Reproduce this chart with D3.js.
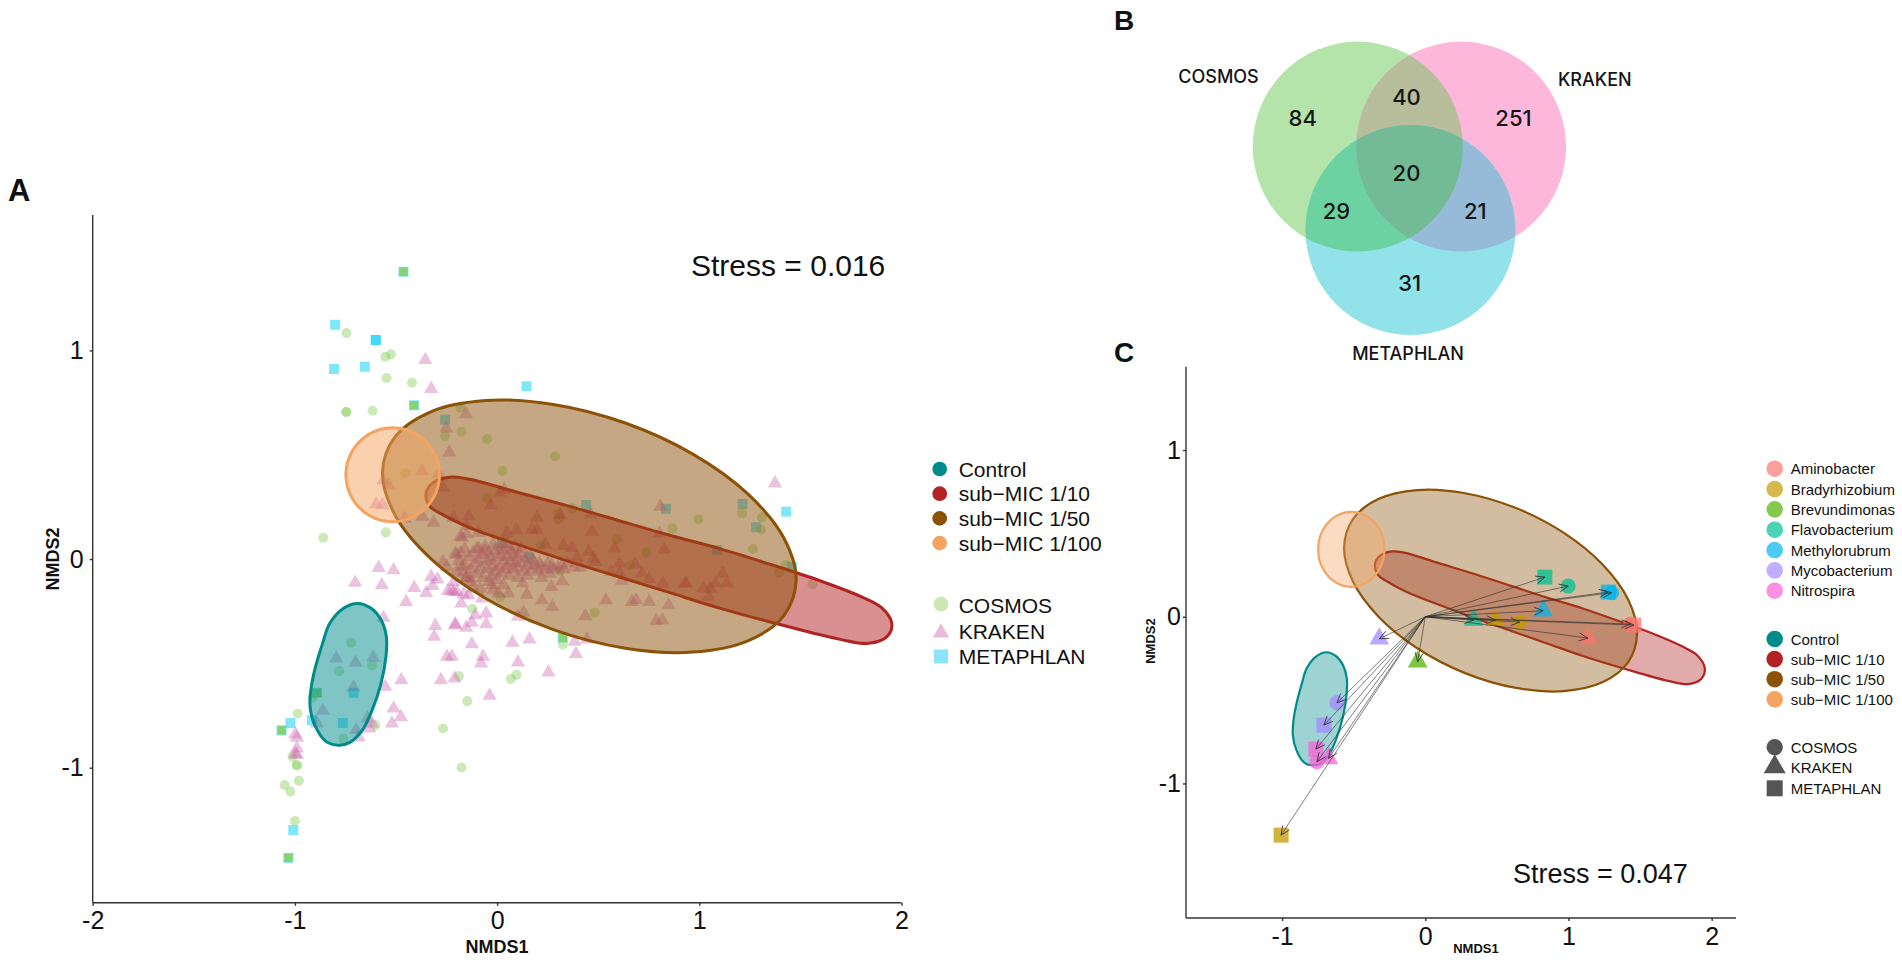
<!DOCTYPE html>
<html><head><meta charset="utf-8">
<script src="https://cdnjs.cloudflare.com/ajax/libs/d3/7.8.5/d3.min.js"></script>
<style>
html,body{margin:0;padding:0;background:#fff;overflow:hidden}
svg{display:block}
text{font-family:"Liberation Sans",Arial,sans-serif;fill:#111}
.venn{font-family:Inter,"Noto Sans",sans-serif;fill:#151515;font-weight:500}
</style></head><body>
<svg id="c" width="1902" height="962"></svg>
<script>
// ---------- DATA ----------
const groupNames = ["Control","sub\u2212MIC 1/10","sub\u2212MIC 1/50","sub\u2212MIC 1/100"];
const methodNames = ["COSMOS","KRAKEN","METAPHLAN"];
const genusNames = ["Aminobacter","Bradyrhizobium","Brevundimonas","Flavobacterium","Methylorubrum","Mycobacterium","Nitrospira"];
const vennCounts = ["84","40","251","29","20","21","31"];
const xTicksA = [-2,-1,0,1,2], yTicksA = [-1,0,1], xTicksC = [-1,0,1,2], yTicksC = [-1,0,1];

const outlineControl = [[-0.691,-0.213],[-0.625,-0.235],[-0.575,-0.29],[-0.548,-0.37],[-0.55,-0.47],[-0.575,-0.6],[-0.618,-0.724],[-0.67,-0.825],[-0.73,-0.88],[-0.783,-0.892],[-0.845,-0.875],[-0.9,-0.80],[-0.925,-0.708],[-0.92,-0.62],[-0.898,-0.516],[-0.865,-0.41],[-0.828,-0.309],[-0.761,-0.237]];
const outline110 = [[-0.352,0.307],[-0.33,0.355],[-0.248,0.391],[-0.149,0.385],[0.1,0.32],[0.35,0.255],[0.6,0.185],[0.85,0.115],[1.1,0.05],[1.35,-0.025],[1.6,-0.105],[1.8,-0.18],[1.9,-0.232],[1.952,-0.308],[1.928,-0.372],[1.837,-0.404],[1.697,-0.385],[1.384,-0.31],[1.1,-0.235],[0.85,-0.16],[0.6,-0.085],[0.35,-0.01],[0.1,0.07],[-0.133,0.15],[-0.281,0.219],[-0.331,0.251]];
const outline150 = [[1.479,-0.1],[1.417,-0.272],[1.24,-0.392],[0.968,-0.446],[0.634,-0.427],[0.278,-0.338],[-0.056,-0.189],[-0.328,0.002],[-0.505,0.211],[-0.567,0.414],[-0.505,0.586],[-0.328,0.706],[-0.056,0.76],[0.278,0.741],[0.634,0.652],[0.968,0.503],[1.24,0.312],[1.417,0.103]];
const outline1100 = [[-0.285,0.404],[-0.316,0.517],[-0.401,0.599],[-0.5165,0.629],[-0.632,0.599],[-0.717,0.517],[-0.748,0.404],[-0.717,0.292],[-0.632,0.209],[-0.5165,0.179],[-0.401,0.209],[-0.316,0.292]];

const cosmosA = [[-0.745,1.083],[-0.552,0.97],[-0.525,0.981],[-0.547,0.868],[-0.421,0.845],[-0.746,0.705],[-0.746,0.705],[-0.616,0.711],[-0.183,0.725],[-0.176,0.61],[-0.257,0.59],[-0.05,0.575],[0.287,0.492],[0.027,0.422],[-0.454,0.411],[-0.049,0.292],[0.304,0.219],[0.304,0.19],[0.373,0.243],[-0.55,0.128],[-0.86,0.102],[0.867,0.147],[0.996,0.19],[0.592,0.094],[0.737,0.032],[0.658,-0.029],[0.217,0.064],[0.309,-0.056],[0.015,-0.181],[-0.123,-0.238],[0.482,-0.257],[0.325,-0.409],[-0.189,-0.561],[0.068,-0.575],[0.096,-0.555],[-0.148,-0.681],[-0.267,-0.812],[1.212,0.22],[1.31,0.2],[1.306,0.142],[1.265,0.048],[1.428,-0.029],[1.395,-0.064],[1.56,-0.121],[-0.722,-0.401],[-0.781,-0.537],[-0.619,-0.51],[-0.913,-0.665],[-0.987,-0.74],[-0.603,-0.796],[-0.76,-0.86],[-1.012,-0.948],[-0.99,-0.988],[-0.99,-0.988],[-0.98,-1.063],[-1.051,-1.083],[-1.022,-1.114],[-1,-1.256],[-0.176,-0.999]];
const metaphlanA = [[-0.463,1.377],[-0.801,1.123],[-0.6,1.05],[-0.6,1.05],[-0.806,0.911],[-0.654,0.922],[0.145,0.828],[-0.411,0.737],[-0.257,0.668],[0.441,0.259],[0.835,0.241],[0.024,0.078],[0.159,0.008],[0.325,-0.377],[1.214,0.264],[1.281,0.153],[1.43,0.227],[1.087,0.043],[1.458,-0.037],[-1.066,-0.821],[-1.022,-0.786],[-0.916,-0.772],[-0.891,-0.641],[-0.71,-0.641],[-0.763,-0.786],[-1.008,-1.299],[-1.032,-1.432]];
const metaphlanSharedA = [[-0.463,1.377],[-0.411,0.737],[0.325,-0.377],[-1.066,-0.821],[-0.891,-0.641],[-1.032,-1.432]];
const krakenScatterA = [[-0.355,0.954],[-0.326,0.816],[-0.154,0.695],[-0.252,0.626],[-0.237,0.511],[-0.372,0.423],[-0.562,0.378],[-0.537,0.354],[-0.598,0.263],[-0.567,0.259],[-0.29,0.407],[-0.268,0.343],[0.015,0.319],[0.035,0.334],[-0.031,0.257],[-0.458,0.195],[-0.369,0.203],[-0.314,0.175],[-0.215,0.198],[-0.141,0.207],[-0.15,0.159],[-0.182,0.107],[-0.15,0.12],[-0.092,0.126],[0.048,0.123],[0.095,0.139],[0.172,0.142],[0.197,0.198],[0.197,0.139],[0.312,0.211],[0.464,0.214],[0.469,0.131],[0.807,0.251],[0.803,0.123],[0.827,0.046],[0.581,0.051],[0.452,0.035],[0.238,0.07],[0.329,0.064],[0.37,0.054],[0.395,0.008],[0.477,0.003],[0.485,-0.013],[0.606,-0.021],[0.683,-0.026],[0.716,-0.069],[0.752,-0.096],[0.606,-0.066],[0.564,-0.061],[0.617,-0.104],[0.82,-0.117],[0.935,-0.117],[0.411,-0.04],[0.322,-0.106],[0.269,-0.133],[0.221,-0.197],[0.273,-0.229],[0.147,-0.17],[0.127,-0.117],[0.538,-0.197],[0.667,-0.205],[0.688,-0.197],[0.752,-0.205],[0.848,-0.221],[0.436,-0.273],[0.787,-0.296],[0.817,-0.293],[0.131,-0.256],[0.103,-0.276],[0.444,-0.385],[0.383,-0.396],[0.39,-0.455],[0.254,-0.543],[0.16,-0.385],[0.076,-0.4],[0.103,-0.495],[-0.07,-0.468],[-0.079,-0.5],[-0.037,-0.655],[-0.125,-0.408],[-0.248,-0.468],[-0.224,-0.468],[-0.278,-0.58],[-0.21,-0.572],[-0.474,-0.58],[-0.553,-0.612],[-0.512,-0.716],[-0.476,-0.756],[-0.52,-0.788],[-0.306,-0.32],[-0.311,-0.372],[-0.207,-0.312],[-0.207,-0.318],[-0.153,-0.329],[-0.125,-0.305],[-0.054,-0.312],[-0.108,-0.269],[-0.054,-0.26],[-0.562,-0.281],[-0.586,-0.042],[-0.512,-0.053],[-0.702,-0.113],[-0.57,-0.125],[-0.41,-0.138],[-0.351,-0.162],[-0.45,-0.206],[-0.326,-0.085],[-0.295,-0.098],[-0.319,-0.128],[-0.243,-0.153],[-0.215,-0.109],[-0.215,-0.157],[-0.199,-0.157],[-0.225,-0.15],[-0.177,-0.213],[-0.166,-0.168],[-0.141,-0.173],[-0.075,-0.189],[-0.268,-0.013],[-0.248,-0.037],[0.007,-0.165],[0.056,-0.165],[0.032,-0.125],[-0.026,-0.125],[-0.084,-0.141],[-0.133,-0.093],[-0.155,-0.093],[-0.174,-0.037],[-0.207,0.027],[-0.2,0.02],[-0.174,0.104],[-0.796,-0.476],[-0.7,-0.497],[-0.613,-0.473],[-0.71,-0.615],[-0.862,-0.727],[-0.891,-0.787],[-0.641,-0.764],[-0.697,-0.819],[-0.619,-0.787],[-0.632,-0.811],[-0.685,-0.855],[-0.998,-0.84],[-0.99,-0.856],[-0.99,-0.907],[-0.998,-0.934],[-0.99,-0.939],[1.374,0.363],[1.116,-0.069],[1.136,-0.117],[1.054,-0.14],[1.021,-0.14],[1.046,-0.18],[0.93,-0.117],[1.079,-0.117]];
const krakenClusterA = [[-0.16,-0.03],[-0.14,0.01],[-0.13,-0.05],[-0.12,0.03],[-0.11,-0.02],[-0.10,-0.07],[-0.09,0.05],[-0.09,0.00],[-0.08,-0.04],[-0.07,0.02],[-0.07,-0.09],[-0.06,0.06],[-0.05,-0.01],[-0.05,-0.05],[-0.04,0.03],[-0.03,-0.08],[-0.03,0.00],[-0.02,0.07],[-0.02,-0.03],[-0.01,0.04],[-0.01,-0.06],[0.00,0.01],[0.00,-0.10],[0.01,0.06],[0.01,-0.04],[0.02,0.02],[0.02,-0.07],[0.03,0.04],[0.03,-0.01],[0.04,-0.05],[0.05,0.07],[0.05,0.01],[0.05,-0.03],[0.06,-0.08],[0.07,0.04],[0.07,-0.01],[0.08,0.02],[0.08,-0.05],[0.09,0.06],[0.09,-0.02],[0.10,0.01],[0.10,-0.04],[0.11,0.03],[0.12,-0.02],[0.12,0.05],[0.13,-0.06],[0.14,0.00],[0.15,-0.03],[0.16,0.02],[0.17,-0.05],[0.18,-0.01],[0.19,-0.03],[0.20,-0.06],[0.21,-0.02],[0.22,-0.04],[0.24,-0.05],[0.25,-0.02],[0.27,-0.03],[0.28,-0.05],[0.30,-0.04],[0.32,-0.03],[0.33,-0.05],[-0.15,-0.09],[-0.13,-0.11],[-0.17,-0.07],[-0.06,0.04],[0.03,0.07],[0.06,0.05],[-0.10,0.05],[-0.04,-0.11],[-0.19,-0.01],[-0.2,-0.06],[-0.12,-0.14],[-0.02,-0.15],[0.1,-0.09],[0.15,-0.08],[0.22,-0.09],[0.26,-0.07],[0.35,-0.02],[0.38,-0.04],[-0.16,0.05],[-0.18,0.03]];

// panel C: [genus index, method index, NMDS1, NMDS2]
const genusGenus  = [3,3,4,4,4,3,1,1,0,0,0,5,2,5,5,6,6,6,1];
const genusMethod = [2,0,2,0,1,1,1,0,0,2,1,1,1,0,2,2,0,1,2];
const genusX = [0.835,0.998,1.278,1.301,0.823,0.338,0.49,0.66,1.434,1.457,1.136,-0.321,-0.053,-0.617,-0.708,-0.764,-0.757,-0.676,-1.007];
const genusY = [0.238,0.184,0.148,0.144,0.036,-0.02,-0.02,-0.032,-0.044,-0.05,-0.128,-0.132,-0.27,-0.516,-0.65,-0.794,-0.87,-0.85,-1.31];

// ---------- STYLE ----------
const groupColors = ["#008B8B","#B22222","#8B5208","#F4A460"];
const genusColors = ["#F8766D","#C49A00","#53B400","#00C094","#00B6EB","#A58AFF","#FB61D7"];
const methodSymbols = [d3.symbolCircle,d3.symbolTriangle,d3.symbolSquare];
const methodColorsA = ["#8ED061","#CC66B0","#00D0F5"];
const methodAlphaA = [0.45,0.4,0.5];
const legendColorsA = ["#CCE8B4","#E6BBDD","#8BE4F8"];
const vennBase = ["#B5E4AA","#FDB7DB","#92E2EA"];
const vennPairs = [[[0,1],"#B8BE9C"],[[0,2],"#6CD2A2"],[[1,2],"#96BBD8"],[[0,1,2],"#73BB94"]];
const vennCx = [-0.492,0.492,0.01], vennCy = [-0.397,-0.397,0.397];

const svg = d3.select("#c");
const defs = svg.append("defs");
defs.append("marker").attr("id","arr").attr("markerUnits","userSpaceOnUse")
  .attr("markerWidth",14).attr("markerHeight",14).attr("refX",12).attr("refY",7).attr("orient","auto")
  .append("path").attr("d","M3,3 L12,7 L3,11").attr("fill","none").attr("stroke","#333").attr("stroke-width",0.8);

const sym = (t,s)=>d3.symbol().type(t).size(s)();
const outlines = [outlineControl,outline110,outline150,outline1100];

function axes(g,x,y,xt,yt,lab){
  const ax=g.append("g").attr("transform",`translate(0,${y.range()[0]})`)
    .call(d3.axisBottom(x).tickValues(xt).tickFormat(String).tickSize(3).tickPadding(lab.xPad));
  const ay=g.append("g").attr("transform",`translate(${x.range()[0]},0)`)
    .call(d3.axisLeft(y).tickValues(yt).tickFormat(String).tickSize(3).tickPadding(lab.yPad));
  [ax,ay].forEach(a=>{a.selectAll("text").style("font-size","25px").attr("fill","#111");
    a.selectAll("line,path").attr("stroke","#333").attr("stroke-width",1.4);
    a.select(".domain").attr("d",null);});
  ax.select(".domain").attr("d",`M${x.range()[0]},0H${x.range()[1]}`);
  ay.select(".domain").attr("d",`M0,${y.range()[0]}V${y.range()[1]}`);
}
function ellipses(g,x,y,alpha,sw){
  const line=d3.line().x(d=>x(d[0])).y(d=>y(d[1])).curve(d3.curveCatmullRomClosed.alpha(0.5));
  g.selectAll("path.e").data(outlines).join("path").attr("class","e").attr("d",line)
    .attr("fill",(d,i)=>groupColors[i]).attr("fill-opacity",alpha)
    .attr("stroke",(d,i)=>groupColors[i]).attr("stroke-width",sw);
}
function label(t,x,y,size,opts={}){
  const e=svg.append("text").attr("x",x).attr("y",y).style("font-size",size+"px").text(t);
  if(opts.bold)e.style("font-weight","bold");
  if(opts.anchor)e.attr("text-anchor",opts.anchor);
  if(opts.rot)e.attr("transform",`rotate(-90 ${x} ${y})`);
  if(opts.cls)e.attr("class",opts.cls);
  return e;
}

// ---------- PANEL A ----------
const xA=d3.scaleLinear().domain([-2,2]).range([92.7,901.5]);
const yA=d3.scaleLinear().domain([-1.647,1.649]).range([902.7,215]);
const gA=svg.append("g");
const pts=(data,i,size)=>gA.append("g").selectAll("path").data(data).join("path")
  .attr("d",sym(methodSymbols[i],size)).attr("transform",d=>`translate(${xA(d[0])},${yA(d[1])})`)
  .attr("fill",methodColorsA[i]).attr("fill-opacity",methodAlphaA[i]);
pts(metaphlanA,2,100);
gA.append("g").selectAll("path").data(metaphlanSharedA).join("path")
  .attr("d",sym(d3.symbolSquare,72)).attr("transform",d=>`translate(${xA(d[0])},${yA(d[1])})`)
  .attr("fill","#85CE58").attr("fill-opacity",0.85);
pts(cosmosA,0,80);
pts(krakenScatterA.concat(krakenClusterA),1,88);
ellipses(gA,xA,yA,0.5,3);
axes(gA,xA,yA,xTicksA,yTicksA,{xPad:6,yPad:6});
label("Stress = 0.016",691,276,30);
label("A",8,201,31,{bold:true});
label("NMDS1",497,953,18,{bold:true,anchor:"middle"});
label("NMDS2",59,559,18,{bold:true,anchor:"middle",rot:true});

// legend A
const legA=svg.append("g");
groupNames.forEach((n,i)=>{
  const yy=469+i*24.7;
  legA.append("path").attr("d",sym(d3.symbolCircle,170)).attr("transform",`translate(939.7,${yy})`).attr("fill",groupColors[i]);
  legA.append("text").attr("x",958.7).attr("y",yy+7.5).style("font-size","21px").text(n);
});
methodNames.forEach((n,i)=>{
  const yy=[604,632.7,656.5][i];
  legA.append("path").attr("d",sym(methodSymbols[i],[175,115,196][i])).attr("transform",`translate(941,${yy})`).attr("fill",legendColorsA[i]);
  legA.append("text").attr("x",958.7).attr("y",[613,639,664][i]).style("font-size","21px").text(n);
});

// ---------- PANEL B ----------
const vx=d3.scaleLinear().domain([-1,1]).range([1304.4,1514.4]);
const vy=d3.scaleLinear().domain([-1,1]).range([83.3,293.3]);
const vr=v=>vx(v)-vx(0);
const gB=svg.append("g");
vennCx.forEach((c,i)=>defs.append("clipPath").attr("id","v"+i).append("circle")
  .attr("cx",vx(c)).attr("cy",vy(vennCy[i])).attr("r",vr(1)));
vennCx.forEach((c,i)=>gB.append("circle").attr("cx",vx(c)).attr("cy",vy(vennCy[i])).attr("r",vr(1)).attr("fill",vennBase[i]));
vennPairs.forEach(([ids,col])=>{
  let g=gB;
  ids.slice(1).forEach(k=>{g=g.append("g").attr("clip-path",`url(#v${k})`);});
  g.append("circle").attr("cx",vx(vennCx[ids[0]])).attr("cy",vy(vennCy[ids[0]])).attr("r",vr(1)).attr("fill",col);
});
const vennCountX=[1302.7,1406.5,1513.5,1336.5,1406.5,1475.4,1409.6], vennCountY=[126,105,126,218.7,180.7,218.7,291.3];
vennCounts.forEach((t,i)=>label(t,vennCountX[i],vennCountY[i],22,{anchor:"middle",cls:"venn"}));
const vennNameX=[1218.5,1594.8,1408], vennNameY=[83.3,86,360];
methodNames.forEach((t,i)=>label(t,vennNameX[i],vennNameY[i],18,{anchor:"middle",cls:"venn"}));
label("B",1114,30,28,{bold:true});
label("C",1114,362,28,{bold:true});

// ---------- PANEL C ----------
const xC=d3.scaleLinear().domain([-1.671,2.17]).range([1186,1736]);
const yC=d3.scaleLinear().domain([-1.807,1.5]).range([918,366.7]);
const gC=svg.append("g");
ellipses(gC,xC,yC,0.38,2.2);
const symSizeC=[177,170,225];
gC.append("g").selectAll("path").data(genusX).join("path")
  .attr("d",(d,i)=>sym(methodSymbols[genusMethod[i]],symSizeC[genusMethod[i]]))
  .attr("transform",(d,i)=>`translate(${xC(d)},${yC(genusY[i])})`)
  .attr("fill",(d,i)=>genusColors[genusGenus[i]]).attr("fill-opacity",0.75);
gC.append("g").selectAll("line").data(genusX).join("line")
  .attr("x1",xC(0)).attr("y1",yC(0)).attr("x2",d=>xC(d)).attr("y2",(d,i)=>yC(genusY[i]))
  .attr("stroke","#333").attr("stroke-width",0.85).attr("stroke-opacity",0.75).attr("marker-end","url(#arr)");
axes(gC,xC,yC,xTicksC,yTicksC,{xPad:6,yPad:2});
label("Stress = 0.047",1513,883,27);
label("NMDS1",1476,953,13,{bold:true,anchor:"middle"});
label("NMDS2",1155,641,13,{bold:true,anchor:"middle",rot:true});

// legend C
const legC=svg.append("g");
const legRow=(n,yy,draw)=>{draw();legC.append("text").attr("x",1790.7).attr("y",yy+5.5).style("font-size","15px").text(n);};
genusNames.forEach((n,i)=>{const yy=468.7+i*20.33;
  legRow(n,yy,()=>legC.append("circle").attr("cx",1774.7).attr("cy",yy).attr("r",8.3).attr("fill",genusColors[i]).attr("fill-opacity",0.7));});
groupNames.forEach((n,i)=>{const yy=639+i*20.1;
  legRow(n,yy,()=>legC.append("circle").attr("cx",1774.7).attr("cy",yy).attr("r",8.3).attr("fill",groupColors[i]));});
methodNames.forEach((n,i)=>{const yy=[747.3,767,788.3][i];
  legRow(n,yy,()=>legC.append("path").attr("d",sym(methodSymbols[i],[210,210,256][i])).attr("transform",`translate(1774.7,${yy})`).attr("fill","#555"));});
</script>
</body></html>
